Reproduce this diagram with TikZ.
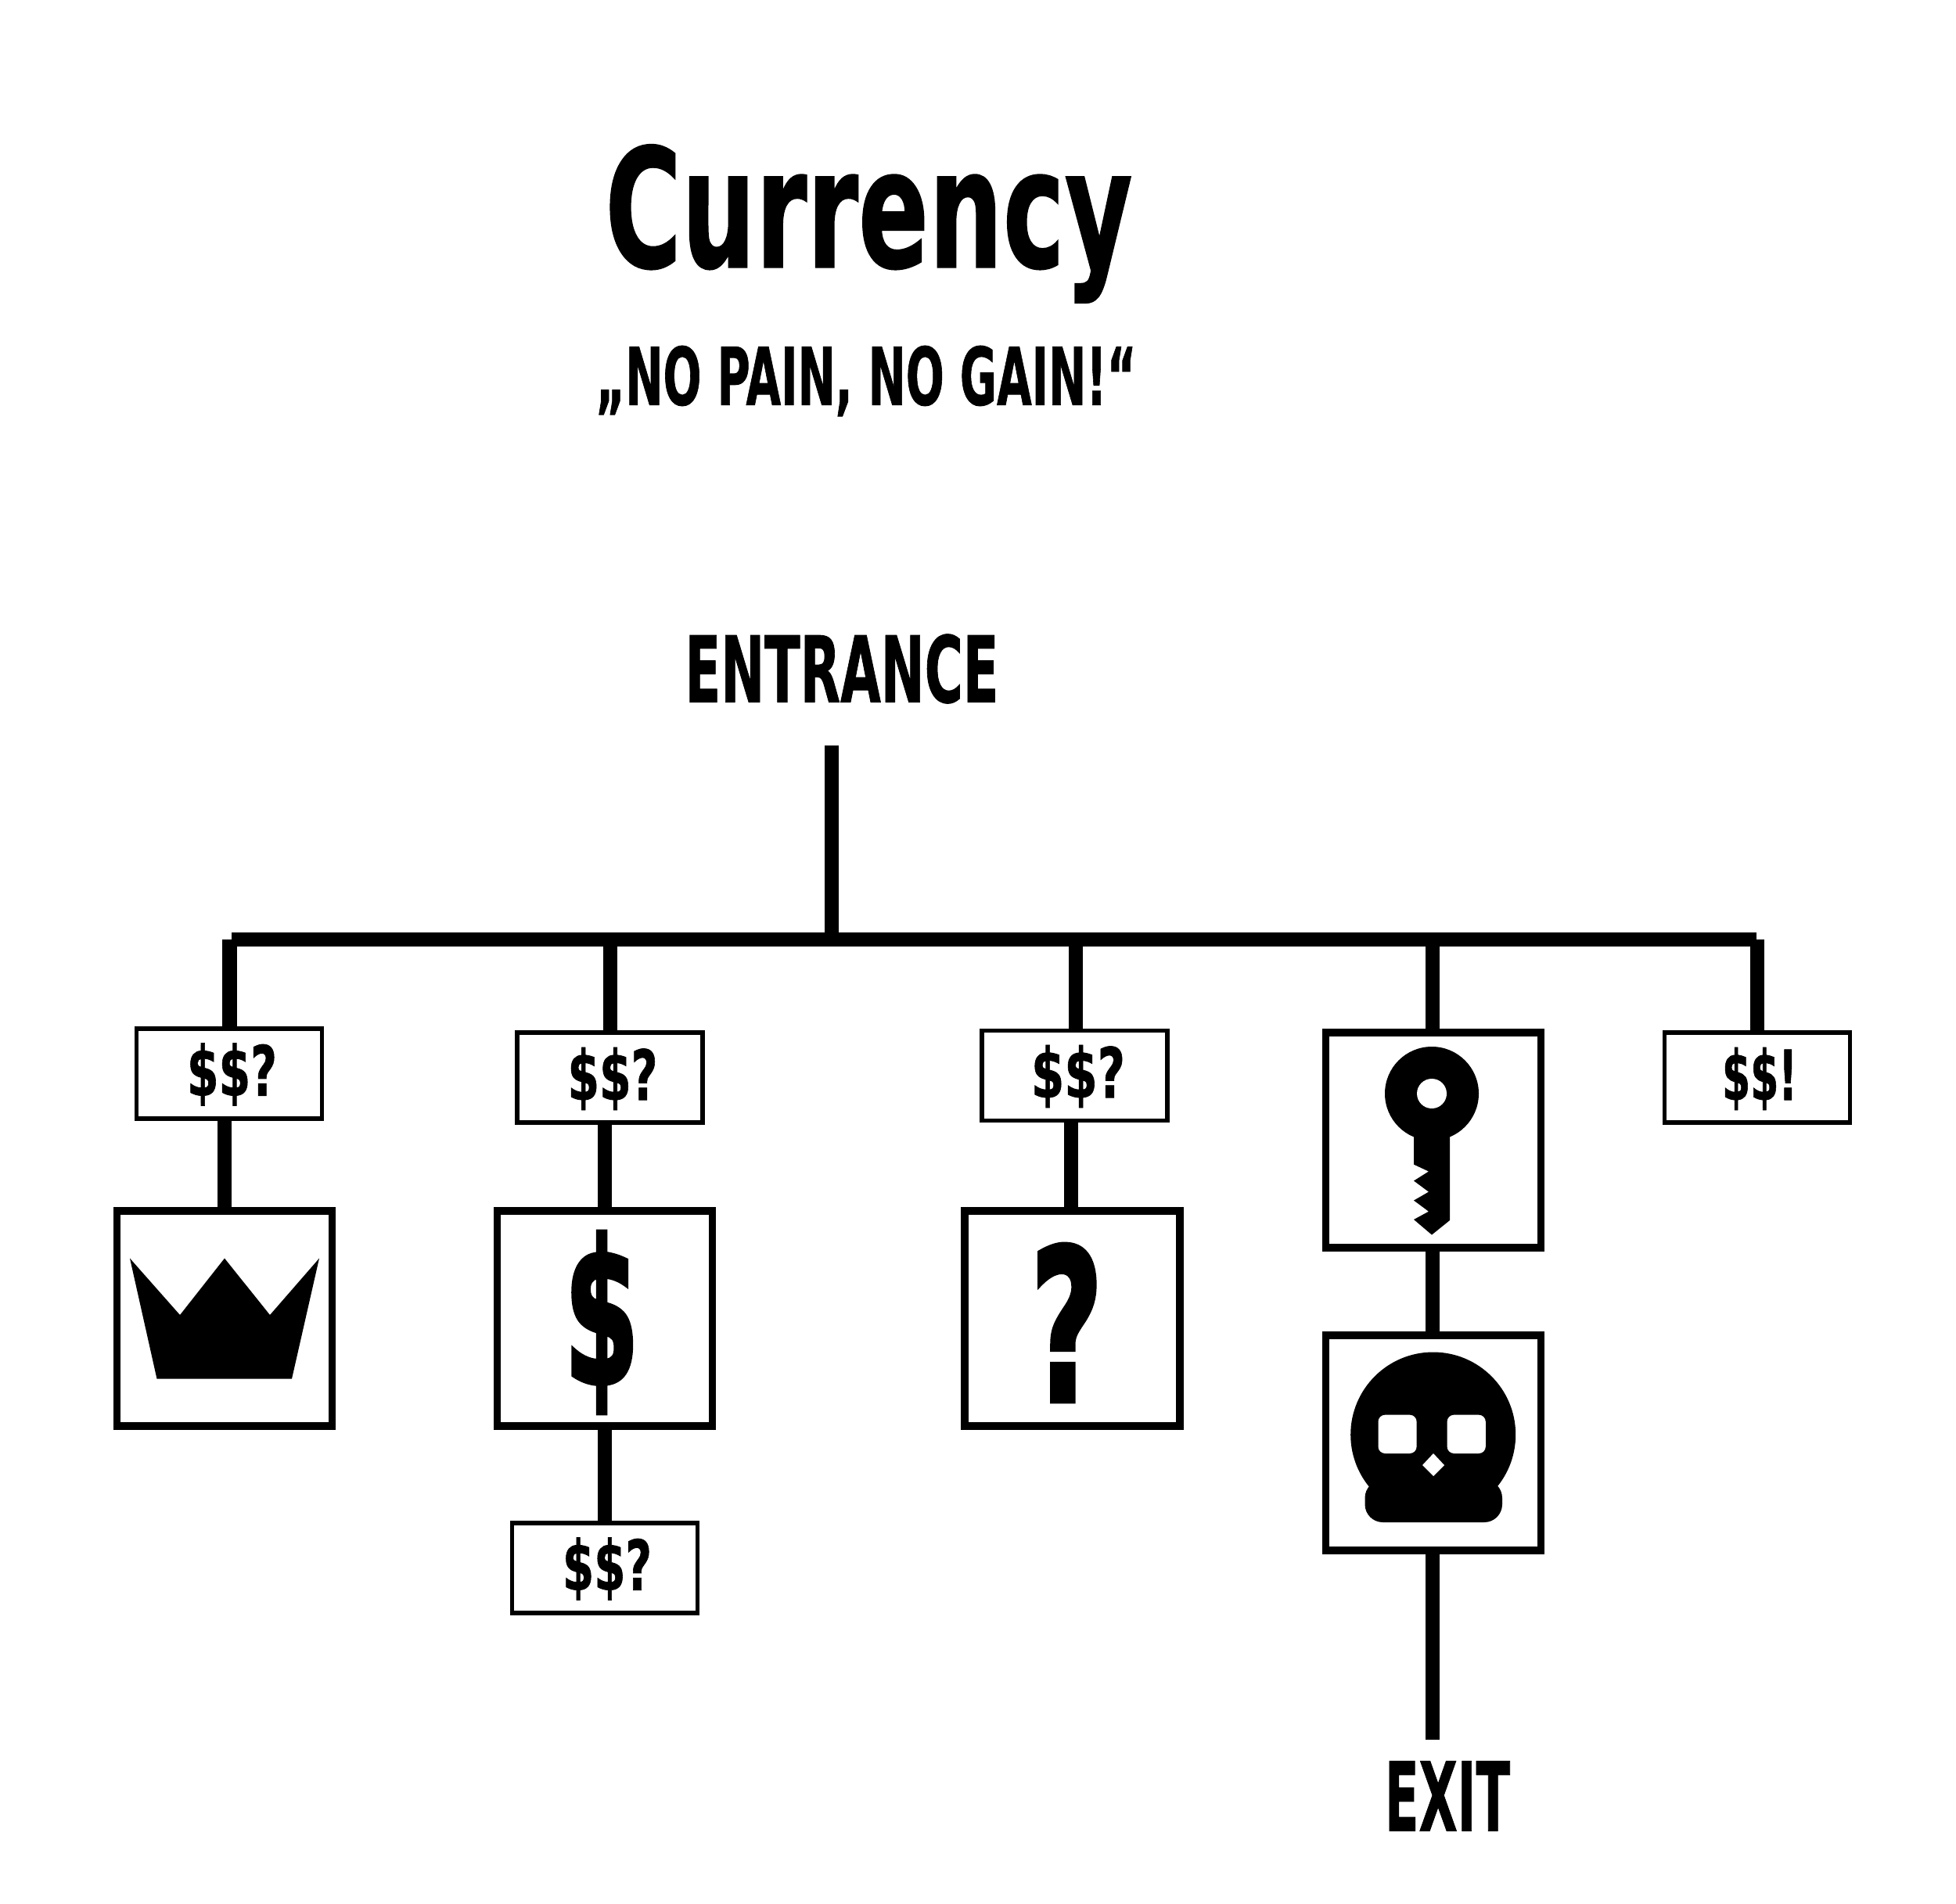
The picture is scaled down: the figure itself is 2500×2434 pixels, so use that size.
\documentclass[tikz,border=0pt]{standalone}
\usepackage{fontspec}
\setmainfont{DejaVu Sans}
\newfontfamily\disp[FakeBold=1]{DejaVu Sans Bold}
\newfontfamily\dispheavy[FakeBold=2.5]{DejaVu Sans Bold}
\newcommand\fitted[3]{\resizebox*{#1}{#2}{\disp #3}}
\newcommand\fittedheavy[3]{\resizebox*{#1}{#2}{\dispheavy #3}}
\tikzset{
  bigbox/.style={draw=black,fill=white,line width=0.095cm,inner sep=0pt,minimum width=2.75cm,minimum height=2.75cm},
  smallbox/.style={draw=black,fill=white,line width=0.055cm,inner sep=0pt,minimum width=2.37cm,minimum height=1.15cm},
  stem/.style={draw=black,line width=0.18cm,line cap=butt},
  lbl/.style={inner sep=0pt,outer sep=0pt,text=black}
}
\begin{document}
\begin{tikzpicture}[x=0.01cm,y=-0.01cm]
\useasboundingbox (0,0) rectangle (2500,2434);
\fill[white] (0,0) rectangle (2500,2434);
% texts
\node[lbl] (title) at (1110.5,286) {\fitted{6.735cm}{2.02cm}{Currency}};
\node[lbl] (sub) at (1107,487) {\fitted{6.905cm}{0.9cm}{„NO PAIN, NO GAIN!“}};
\node[lbl] (entrance) at (1076,855) {\fitted{4.005cm}{0.885cm}{ENTRANCE}};
\node[lbl] (exit) at (1850,2296) {\fitted{1.6cm}{0.89cm}{EXIT}};
% boxes
\node[smallbox] (s1) at (293,1372.5) {};
\node[smallbox] (s2) at (779.5,1377.5) {};
\node[smallbox] (s3) at (1373.5,1375) {};
\node[smallbox] (s4) at (2246,1377.5) {};
\node[smallbox] (s5) at (773,2004.5) {};
\node[bigbox] (crown) at (287,1685.5) {};
\node[bigbox] (dollar) at (773,1685.5) {};
\node[bigbox] (quest) at (1370.5,1685.5) {};
\node[bigbox] (key) at (1832,1457.5) {};
\node[bigbox] (skull) at (1832,1844.5) {};
% labels in small boxes
\node[lbl] at (296.5,1373.5) {\fitted{1.15cm}{0.8cm}{\$\$?}};
\node[lbl] at (783,1379) {\fitted{1.15cm}{0.8cm}{\$\$?}};
\node[lbl] at (1378,1376) {\fitted{1.2cm}{0.8cm}{\$\$?}};
\node[lbl] at (776,2005.5) {\fitted{1.14cm}{0.8cm}{\$\$?}};
\node[lbl] at (2249,1379) {\fitted{0.96cm}{0.8cm}{\$\$!}};
% big glyphs
\node[lbl] at (769,1690.5) {\fittedheavy{0.955cm}{2.31cm}{\$}};
\node[lbl] at (1363.5,1691) {\fittedheavy{0.93cm}{2.0cm}{?}};
% connectors
\coordinate (busL) at (296,1201);
\coordinate (busR) at (2245,1201);
\coordinate (t0) at (1063,1201);
\coordinate (t1) at (293.5,1201);
\coordinate (t2) at (779.5,1201);
\coordinate (t3) at (1375,1201);
\coordinate (t4) at (1830.5,1201);
\coordinate (t5) at (2246,1201);
\coordinate (entry) at (1063,953);
\coordinate (out) at (1830.5,2224);
\draw[line width=0.185cm,draw=black] (busL) -- (busR);
\draw[stem] (entry) -- (t0);
\draw[stem] (t1) -- (t1 |- s1.north);
\draw[stem] (t2) -- (t2 |- s2.north);
\draw[stem] (t3) -- (t3 |- s3.north);
\draw[stem] (t4) -- (t4 |- key.north);
\draw[stem] (t5) -- (t5 |- s4.north);
\draw[stem] (crown.north) -- (crown.north |- s1.south);
\draw[stem] (dollar.north) -- (dollar.north |- s2.south);
\draw[stem] ([xshift=-0.02cm]quest.north) -- ([xshift=-0.02cm]quest.north |- s3.south);
\draw[stem] (t4 |- skull.north) -- (t4 |- key.south);
\draw[stem] (dollar.south) -- (dollar.south |- s5.north);
\draw[stem] (t4 |- skull.south) -- (out);
% crown icon
\fill[black] (166,1608.6) -- (230,1681) -- (287,1608.6) -- (345,1681) -- (408,1608.6) -- (373,1762.6) -- (200.5,1762.6) -- cycle;
% key icon
\fill[black] (1830,1398) circle[radius=60];
\fill[black] (1807,1440) -- (1853,1440) -- (1853,1560) -- (1830,1578.5) -- (1807,1559) -- (1826,1548.7) -- (1807,1534.6) -- (1826,1523.6) -- (1807,1509.5) -- (1826,1497.5) -- (1807,1488.6) -- cycle;
\fill[white] (1830,1398) circle[radius=19];
% skull icon
\fill[black] (1831.7,1834) circle[radius=105.5];
\fill[black,rounded corners=6.5pt] (1744.5,1892) rectangle (1920,1946);
\fill[white,rounded corners=2.5pt] (1761.5,1808.7) rectangle (1810.6,1858);
\fill[white,rounded corners=2.5pt] (1849.6,1808.7) rectangle (1898.8,1858);
\fill[white] (1832,1858) -- (1846,1873) -- (1832,1887) -- (1818,1873) -- cycle;
\end{tikzpicture}
\end{document}
